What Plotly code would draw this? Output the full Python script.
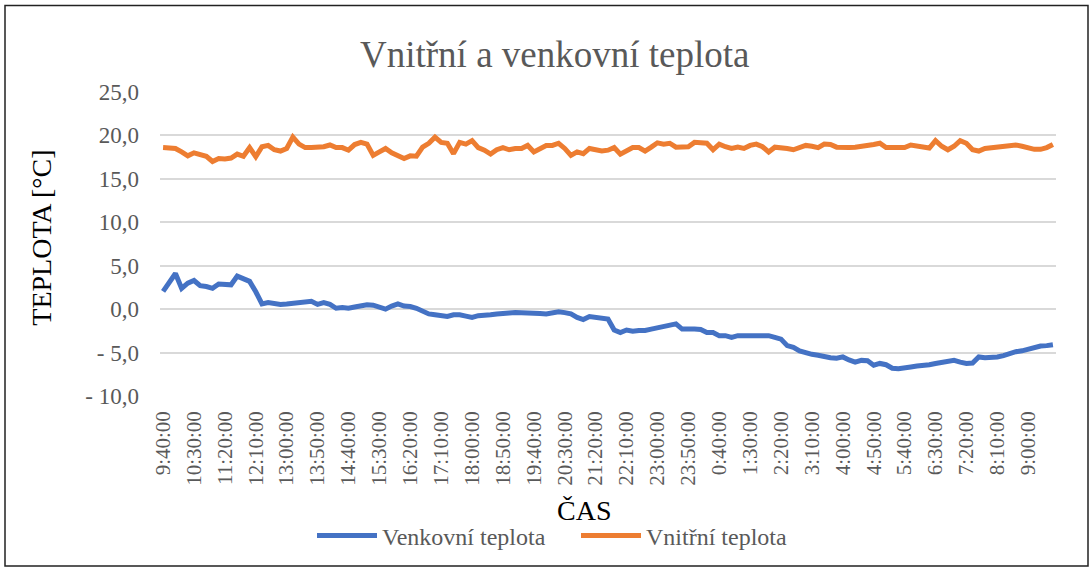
import plotly.graph_objects as go

# categories: 10-minute steps from 9:40:00 to 9:40:00 next day
times = []
h, m = 9, 40
for _ in range(145):
    times.append(f"{h}:{m:02d}:00")
    m += 10
    if m >= 60:
        m -= 60
        h = (h + 1) % 24

venkovni = [
    2.05, 3.1, 4.1, 2.4, 3.0, 3.3, 2.7, 2.6, 2.4, 2.9,
    2.9, 2.8, 3.8, 3.5, 3.2, 2.0, 0.6, 0.75, 0.6, 0.55,
    0.6, 0.7, 0.75, 0.9, 0.9, 0.55, 0.75, 0.55, 0.1, 0.2,
    0.1, 0.25, 0.35, 0.5, 0.45, 0.25, 0.0, 0.35, 0.6, 0.35,
    0.3, 0.1, -0.3, -0.55, -0.65, -0.8, -0.85, -0.65, -0.65, -0.8,
    -0.95, -0.75, -0.75, -0.65, -0.55, -0.55, -0.45, -0.4, -0.4, -0.4,
    -0.4, -0.5, -0.55, -0.45, -0.3, -0.4, -0.55, -0.95, -1.2, -0.85,
    -0.95, -1.1, -1.15, -2.4, -2.7, -2.4, -2.55, -2.45, -2.45, -2.3,
    -2.15, -2.05, -1.85, -1.7, -2.3, -2.25, -2.3, -2.35, -2.7, -2.7,
    -3.05, -3.05, -3.25, -3.05, -3.05, -3.0, -3.0, -3.0, -3.05, -3.25,
    -3.45, -4.2, -4.4, -4.8, -5.05, -5.2, -5.3, -5.5, -5.6, -5.65,
    -5.5, -5.85, -6.1, -5.9, -5.95, -6.45, -6.25, -6.4, -6.8, -6.85,
    -6.7, -6.65, -6.55, -6.5, -6.4, -6.25, -6.1, -5.95, -5.9, -6.1,
    -6.25, -6.2, -5.5, -5.6, -5.6, -5.5, -5.35, -5.1, -4.9, -4.8,
    -4.6, -4.4, -4.25, -4.2, -4.1,
]

vnitrni = [
    18.6, 18.6, 18.5, 18.1, 17.65, 18.0, 17.85, 17.6, 17.0, 17.35,
    17.3, 17.4, 17.85, 17.6, 18.6, 17.55, 18.7, 18.85, 18.35, 18.2,
    18.5, 19.8, 19.0, 18.6, 18.6, 18.6, 18.7, 18.9, 18.6, 18.6,
    18.3, 18.95, 19.2, 19.0, 17.7, 18.1, 18.5, 18.0, 17.6, 17.35,
    17.65, 17.6, 18.65, 19.1, 19.8, 19.2, 19.1, 17.9, 19.2, 19.0,
    19.4, 18.6, 18.3, 17.85, 18.35, 18.6, 18.35, 18.5, 18.5, 18.85,
    18.1, 18.5, 18.85, 18.85, 19.1, 18.5, 17.7, 18.1, 17.9, 18.5,
    18.3, 18.2, 18.3, 18.6, 17.85, 18.2, 18.6, 18.6, 18.2, 18.65,
    19.15, 19.0, 19.1, 18.65, 18.65, 18.7, 19.2, 19.2, 19.1, 18.35,
    19.0, 18.7, 18.5, 18.65, 18.5, 18.85, 19.0, 18.7, 18.1, 18.65,
    18.6, 18.5, 18.35, 18.6, 18.85, 18.75, 18.6, 19.0, 18.95, 18.65,
    18.6, 18.6, 18.65, 18.75, 18.75, 18.95, 19.1, 18.6, 18.6, 18.6,
    18.6, 18.9, 18.75, 18.6, 18.55, 19.4, 18.75, 18.35, 18.75, 19.4,
    19.1, 18.35, 18.2, 18.5, 18.6, 18.6, 18.75, 18.9, 18.9, 18.75,
    18.6, 18.4, 18.4, 18.6, 18.95,
]

y_ticks = [-10, -5, 0, 5, 10, 15, 20, 25]
y_ticktext = ["- 10,0", "- 5,0", "0,0", "5,0", "10,0", "15,0", "20,0", "25,0"]

idx = list(range(len(times)))
x_tickvals = idx[::5][:29]
x_ticktext = [times[i] for i in x_tickvals]

FONT = '"Liberation Serif", "Times New Roman", serif'
GREY = "#595959"

fig = go.Figure()
fig.add_trace(go.Scatter(x=idx, y=venkovni, mode="lines", name="Venkovní teplota",
                         text=times, line=dict(color="#4472C4", width=5)))
fig.add_trace(go.Scatter(x=idx, y=vnitrni, mode="lines", name="Vnitřní teplota",
                         text=times, line=dict(color="#ED7D31", width=5)))

fig.update_layout(
    width=1092, height=571,
    margin=dict(l=160, r=36, t=92, b=166),
    paper_bgcolor="white", plot_bgcolor="white",
    font=dict(family=FONT, color=GREY),
    title=dict(text="Vnitřní a venkovní teplota", x=0.508, xanchor="center",
               y=0.905, yanchor="middle", font=dict(family=FONT, size=37, color=GREY)),
    showlegend=True,
    legend=dict(orientation="h", x=(312 - 160) / 896, xanchor="left", y=-0.46, yanchor="middle",
                font=dict(family=FONT, size=24, color=GREY), bgcolor="rgba(0,0,0,0)",
                itemwidth=60, entrywidth=189, entrywidthmode="pixels", tracegroupgap=0),
    xaxis=dict(range=[-0.5, len(times) - 0.5],
               tickmode="array", tickvals=x_tickvals, ticktext=x_ticktext,
               tickangle=-90, tickfont=dict(family=FONT, size=21, color=GREY),
               showgrid=False, showline=False, zeroline=False, ticks="",
               ticklabelstandoff=10),
    yaxis=dict(range=[-10, 25], tickmode="array", tickvals=y_ticks, ticktext=y_ticktext,
               tickfont=dict(family=FONT, size=23, color=GREY),
               showgrid=True, gridcolor="#d9d9d9", gridwidth=1.5,
               zeroline=False, showline=False, ticks="", ticklabelstandoff=20),
    annotations=[
        dict(text="TEPLOTA [°C]", xref="paper", yref="paper",
             x=(42 - 160) / 896, y=(405 - 242) / 313, xanchor="center", yanchor="middle",
             textangle=-90, showarrow=False, font=dict(family=FONT, size=28, color="black")),
        dict(text="ČAS", xref="paper", yref="paper",
             x=(584 - 160) / 896, y=(405 - 523) / 313, xanchor="center", yanchor="middle",
             showarrow=False, font=dict(family=FONT, size=28, color="black")),
    ],
    shapes=[
        dict(type="rect", xref="paper", yref="paper",
             x0=(5 - 160) / 896, x1=(1088 - 160) / 896,
             y0=(405 - 580) / 313, y1=(405 - 3) / 313,
             line=dict(color="#222222", width=1.5), fillcolor="rgba(0,0,0,0)", layer="below"),
    ],
)

post = (
    "var g=document.getElementById('{plot_id}');"
    "g.style.position='fixed';g.style.left='0px';g.style.top='0px';"
    "document.documentElement.style.overflow='hidden';"
    "document.body.style.margin='0';document.body.style.overflow='hidden';"
)

fig.write_html("out.html", config={"displayModeBar": False}, post_script=post)
